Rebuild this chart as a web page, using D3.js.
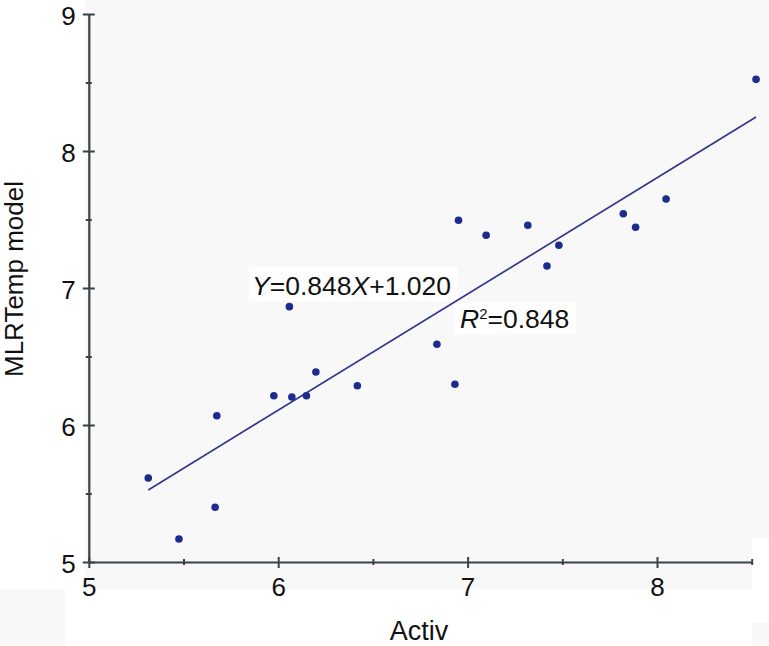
<!DOCTYPE html>
<html>
<head>
<meta charset="utf-8">
<script src="https://cdn.jsdelivr.net/npm/d3@7"></script>
<style>
  html, body { margin: 0; padding: 0; background: #ffffff; }
  svg { display: block; font-family: "Liberation Sans", Arial, sans-serif; }
</style>
</head>
<body>
<svg id="chart" width="769" height="646"></svg>
<script>
// ---- data ----
const activ = [5.314, 5.476, 5.667, 5.676, 5.977, 6.059, 6.072, 6.149, 6.199, 6.418, 6.838,
               6.933, 6.952, 7.098, 7.318, 7.419, 7.482, 7.822, 7.887, 8.048, 8.523];
const model = [5.613, 5.168, 5.400, 6.068, 6.214, 6.864, 6.204, 6.214, 6.387, 6.287, 6.589,
               6.297, 7.494, 7.385, 7.458, 7.161, 7.312, 7.542, 7.443, 7.650, 8.523];
const slope = 0.848, intercept = 1.020;
const xMajorTicks = [5, 6, 7, 8];
const xMinorTicks = [5.5, 6.5, 7.5, 8.5];
const yMajorTicks = [5, 6, 7, 8, 9];
const yMinorTicks = [5.5, 6.5, 7.5, 8.5];
const xLabel = "Activ";
const yLabel = "MLRTemp model";

const svg = d3.select("#chart");
const W = 769, H = 646;

// background patches
const bg = "#f8f8f8";
svg.append("rect").attr("x", 0).attr("y", 0).attr("width", W).attr("height", H).attr("fill", "#ffffff");
svg.append("rect").attr("x", 85).attr("y", 0).attr("width", W - 85).attr("height", 589).attr("fill", bg);
svg.append("rect").attr("x", 752).attr("y", 538).attr("width", W - 752).attr("height", 85).attr("fill", "#ffffff");
svg.append("rect").attr("x", 752).attr("y", 623).attr("width", W - 752).attr("height", H - 623).attr("fill", bg);
svg.append("rect").attr("x", 0).attr("y", 589).attr("width", 65).attr("height", H - 589).attr("fill", bg);

const x = d3.scaleLinear().domain([5, 8.5]).range([88.8, 751.7]);
const y = d3.scaleLinear().domain([5, 9]).range([562, 14]);

const axisColor = "#374348";
const fontSize = 26;

// label boxes (white behind annotations)
svg.append("rect").attr("x", 249).attr("y", 267).attr("width", 209).attr("height", 34).attr("fill", "#ffffff").attr("opacity", 0.8);
svg.append("rect").attr("x", 454).attr("y", 302).attr("width", 122).attr("height", 33).attr("fill", "#ffffff").attr("opacity", 0.8);

// regression line
const xs = d3.extent(activ);
const line = d3.line().x(d => x(d)).y(d => y(slope * d + intercept));
svg.append("path").datum(xs).attr("d", line)
  .attr("fill", "none").attr("stroke", "#34388a").attr("stroke-width", 1.7);

// points
svg.append("g").selectAll("circle").data(activ).join("circle")
  .attr("cx", d => x(d)).attr("cy", (d, i) => y(model[i])).attr("r", 3.8)
  .attr("fill", "#1d2a8e");

// x axis
const gx = svg.append("g").attr("transform", `translate(0,${y(5)})`);
gx.call(d3.axisBottom(x).tickValues(xMajorTicks).tickSize(6).tickSizeOuter(0).tickFormat(d3.format("d")));
gx.select(".domain").attr("stroke", axisColor).attr("stroke-width", 2.2);
gx.selectAll(".tick line").attr("stroke", axisColor).attr("stroke-width", 2).attr("y1", -5).attr("y2", 6);
gx.selectAll(".tick text").attr("font-size", fontSize).attr("fill", "#111").attr("font-family", "Liberation Sans, Arial, sans-serif")
  .attr("y", 0).attr("dy", 34);
const gxm = svg.append("g").attr("transform", `translate(0,${y(5)})`);
gxm.call(d3.axisBottom(x).tickValues(xMinorTicks).tickSize(3).tickSizeOuter(0).tickFormat(""));
gxm.select(".domain").remove();
gxm.selectAll(".tick line").attr("stroke", axisColor).attr("stroke-width", 2).attr("y1", -3).attr("y2", 3);

// y axis
const gy = svg.append("g").attr("transform", `translate(${x(5)},0)`);
gy.call(d3.axisLeft(y).tickValues(yMajorTicks).tickSize(6).tickSizeOuter(0).tickFormat(d3.format("d")));
gy.select(".domain").attr("stroke", axisColor).attr("stroke-width", 2.2);
gy.selectAll(".tick line").attr("stroke", axisColor).attr("stroke-width", 2).attr("x1", 6).attr("x2", -6);
gy.selectAll(".tick text").attr("font-size", fontSize).attr("fill", "#111").attr("font-family", "Liberation Sans, Arial, sans-serif")
  .attr("x", -13).attr("dy", 10).attr("dominant-baseline", null);
const gym = svg.append("g").attr("transform", `translate(${x(5)},0)`);
gym.call(d3.axisLeft(y).tickValues(yMinorTicks).tickSize(3).tickSizeOuter(0).tickFormat(""));
gym.select(".domain").remove();
gym.selectAll(".tick line").attr("stroke", axisColor).attr("stroke-width", 2).attr("x1", 3).attr("x2", -3);

// axis titles
svg.append("text").attr("x", 419).attr("y", 640).attr("text-anchor", "middle")
  .attr("font-size", 27).attr("fill", "#111").text(xLabel);
svg.append("text").attr("transform", "translate(23,279) rotate(-90)").attr("text-anchor", "middle")
  .attr("font-size", 26).attr("fill", "#111").text(yLabel);

// equation annotation
const eq = svg.append("text").attr("x", 252).attr("y", 295).attr("font-size", 26.5).attr("fill", "#111");
eq.append("tspan").attr("font-style", "italic").text("Y");
eq.append("tspan").text("=0.848");
eq.append("tspan").attr("font-style", "italic").text("X");
eq.append("tspan").text("+1.020");

const r2 = svg.append("text").attr("x", 460).attr("y", 328).attr("font-size", 26.5).attr("fill", "#111");
r2.append("tspan").attr("font-style", "italic").text("R");
r2.append("tspan").attr("font-size", 15).attr("dy", -9).text("2");
r2.append("tspan").attr("dy", 9).text("=0.848");
</script>
</body>
</html>
